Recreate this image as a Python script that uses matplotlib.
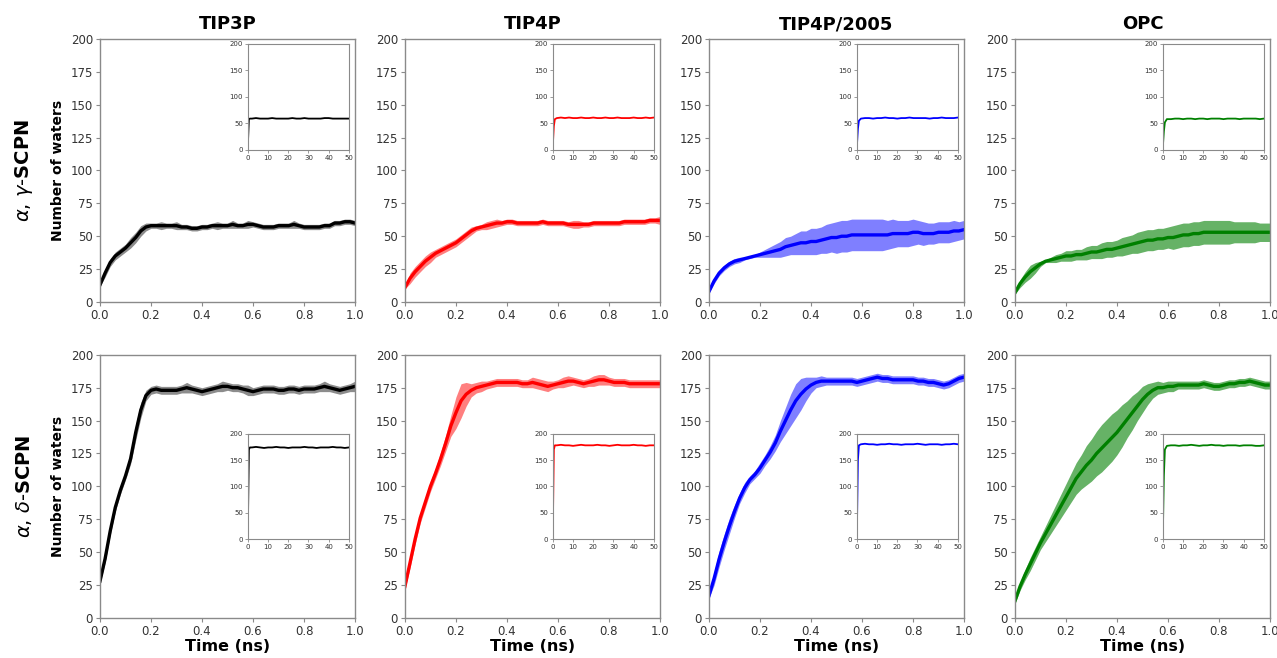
import numpy as np
import matplotlib
matplotlib.use("Agg")
import matplotlib.pyplot as plt

# time grid (ns) used for the first 1 ns
t = np.round(np.arange(51) * 0.02, 2)
# inset time grid (ns)
t_in = [0, 0.5, 1, 2, 4, 6, 8, 10, 12, 14, 16, 18, 20, 22, 24, 26, 28, 30,
        32, 34, 36, 38, 40, 42, 44, 46, 48, 50]

models = ["TIP3P", "TIP4P", "TIP4P/2005", "OPC"]
colors = ["black", "red", "blue", "green"]
band_alpha = [0.45, 0.5, 0.5, 0.6]
rows = [r"$\alpha$, $\gamma$-$\mathbf{SCPN}$", r"$\alpha$, $\delta$-$\mathbf{SCPN}$"]

# ---- alpha,gamma-SCPN (top row) ----
ag_tip3p = [13, 22, 30, 35, 38, 41, 45, 49, 54, 57, 58,
            58, 58, 58, 58, 58, 57, 57, 56, 56, 57,
            57, 58, 58, 58, 58, 59, 58, 58, 59, 59,
            58, 57, 57, 57, 58, 58, 58, 59, 58, 57,
            57, 57, 57, 58, 58, 60, 60, 61, 61, 60]
ag_tip3p_sd = [1, 3, 3, 3, 3, 3, 4, 4, 4, 3, 2,
               2, 3, 2, 2, 3, 2, 2, 2, 2, 2,
               2, 2, 3, 2, 2, 3, 2, 2, 3, 2,
               2, 2, 2, 2, 2, 2, 2, 3, 2, 2,
               2, 2, 2, 2, 2, 2, 2, 2, 2, 2]
ag_tip4p = [11, 18, 23, 27, 31, 34, 37, 39, 41, 43, 45,
            48, 51, 54, 56, 57, 58, 59, 60, 60, 61,
            61, 60, 60, 60, 60, 60, 61, 60, 60, 60,
            60, 59, 59, 59, 59, 59, 60, 60, 60, 60,
            60, 60, 61, 61, 61, 61, 61, 62, 62, 62]
ag_tip4p_sd = [1, 4, 4, 4, 4, 4, 3, 3, 3, 3, 3,
               3, 3, 3, 2, 2, 3, 3, 3, 2, 2,
               2, 2, 2, 2, 2, 2, 2, 2, 2, 2,
               2, 2, 3, 3, 2, 2, 2, 2, 2, 2,
               2, 2, 2, 2, 2, 2, 2, 2, 2, 3]
ag_tip4p2005 = [8, 16, 22, 26, 29, 31, 32, 33, 34, 35, 36,
                37, 38, 39, 40, 42, 43, 44, 45, 45, 46,
                46, 47, 48, 49, 49, 50, 50, 51, 51, 51,
                51, 51, 51, 51, 51, 52, 52, 52, 52, 53,
                53, 52, 52, 52, 53, 53, 53, 54, 54, 55]
ag_tip4p2005_sd = [1, 2, 2, 2, 2, 2, 2, 1, 1, 1, 2,
                   3, 4, 5, 6, 7, 7, 8, 9, 9, 10,
                   10, 10, 11, 11, 12, 12, 12, 12, 12, 12,
                   12, 12, 12, 12, 11, 11, 10, 10, 10, 10,
                   9, 9, 8, 8, 8, 8, 8, 8, 7, 7]
ag_opc = [7, 14, 19, 23, 26, 29, 31, 32, 33, 34, 35,
          35, 36, 36, 37, 38, 38, 39, 40, 40, 41,
          42, 43, 44, 45, 46, 47, 47, 48, 48, 49,
          49, 50, 51, 51, 52, 52, 53, 53, 53, 53,
          53, 53, 53, 53, 53, 53, 53, 53, 53, 53]
ag_opc_sd = [1, 3, 4, 5, 4, 2, 1, 2, 3, 3, 4,
             4, 4, 4, 5, 5, 5, 6, 6, 6, 6,
             7, 7, 7, 8, 8, 8, 8, 8, 8, 8,
             9, 9, 9, 9, 9, 9, 9, 9, 9, 9,
             9, 9, 8, 8, 8, 8, 8, 7, 7, 7]

# ---- alpha,delta-SCPN (bottom row) ----
ad_tip3p = [28, 45, 66, 84, 97, 108, 121, 141, 158, 169, 173,
            174, 173, 173, 173, 173, 174, 175, 174, 173, 172,
            173, 174, 175, 176, 176, 175, 175, 174, 173, 172,
            173, 174, 174, 174, 173, 173, 174, 174, 173, 174,
            174, 174, 175, 176, 175, 174, 173, 174, 175, 176]
ad_tip3p_sd = [2, 3, 3, 3, 3, 3, 4, 6, 6, 4, 3,
               3, 3, 3, 3, 3, 3, 4, 3, 3, 3,
               3, 3, 3, 4, 3, 3, 3, 3, 4, 3,
               3, 3, 3, 3, 3, 3, 3, 3, 3, 3,
               3, 3, 3, 4, 3, 3, 3, 3, 3, 4]
ad_tip4p = [24, 42, 60, 76, 88, 100, 110, 121, 133, 146, 156,
            165, 170, 173, 175, 176, 177, 178, 179, 179, 179,
            179, 179, 178, 178, 179, 178, 177, 176, 177, 178,
            179, 180, 180, 179, 178, 179, 180, 181, 181, 180,
            179, 179, 179, 178, 178, 178, 178, 178, 178, 178]
ad_tip4p_sd = [2, 4, 4, 4, 4, 4, 4, 5, 6, 8, 12,
               13, 9, 5, 4, 4, 3, 3, 3, 3, 3,
               3, 3, 3, 3, 4, 4, 4, 4, 3, 3,
               4, 4, 3, 3, 3, 3, 4, 4, 4, 3,
               3, 3, 3, 3, 3, 3, 3, 3, 3, 3]
ad_tip4p2005 = [17, 30, 45, 58, 70, 81, 91, 99, 105, 109, 114,
                120, 126, 133, 142, 150, 158, 165, 170, 174, 177,
                179, 180, 180, 180, 180, 180, 180, 180, 179, 180,
                181, 182, 183, 182, 182, 181, 181, 181, 181, 181,
                180, 180, 179, 179, 178, 177, 178, 180, 182, 183]
ad_tip4p2005_sd = [2, 5, 6, 6, 6, 5, 4, 4, 3, 3, 4,
                   4, 5, 6, 8, 10, 12, 13, 12, 9, 6,
                   4, 4, 3, 3, 3, 3, 3, 3, 3, 3,
                   3, 3, 3, 3, 3, 3, 3, 3, 3, 3,
                   3, 3, 3, 3, 3, 3, 3, 3, 3, 3]
ad_opc = [13, 24, 33, 41, 49, 57, 64, 71, 78, 85, 92,
          99, 106, 111, 116, 120, 125, 129, 133, 137, 141,
          146, 151, 156, 161, 166, 170, 173, 175, 175, 176,
          176, 177, 177, 177, 177, 177, 178, 177, 176, 176,
          177, 178, 178, 179, 179, 180, 179, 178, 177, 177]
ad_opc_sd = [2, 3, 4, 5, 5, 5, 6, 7, 8, 9, 10,
             11, 12, 13, 15, 16, 17, 18, 18, 18, 17,
             16, 14, 13, 11, 10, 8, 6, 5, 4, 4,
             4, 3, 3, 3, 3, 3, 3, 3, 3, 3,
             3, 3, 3, 3, 3, 3, 3, 3, 3, 3]

# ---- 50 ns insets ----
ag_tip3p_in = [12, 58, 59, 59, 60, 59, 59, 59, 60, 59, 59, 59, 59, 60,
               59, 59, 60, 59, 59, 59, 59, 60, 60, 59, 59, 59, 59, 59]
ag_tip4p_in = [10, 45, 58, 60, 61, 60, 61, 60, 60, 61, 60, 60, 61, 60,
               60, 61, 60, 60, 61, 60, 60, 60, 61, 60, 60, 61, 60, 61]
ag_tip4p2005_in = [8, 40, 55, 59, 60, 60, 59, 60, 60, 61, 60, 60, 59, 60,
                   60, 61, 60, 60, 60, 60, 59, 60, 60, 61, 60, 60, 60, 61]
ag_opc_in = [7, 35, 52, 58, 58, 59, 59, 58, 59, 59, 58, 59, 59, 58,
             59, 59, 59, 58, 59, 59, 59, 58, 59, 59, 59, 59, 58, 59]
ad_tip3p_in = [28, 170, 174, 174, 175, 174, 173, 174, 174, 175, 174, 174, 173, 174,
               174, 174, 175, 174, 174, 173, 174, 174, 174, 175, 174, 174, 173, 174]
ad_tip4p_in = [24, 170, 178, 178, 179, 178, 178, 177, 178, 179, 178, 178, 178, 179,
               178, 178, 177, 178, 179, 178, 178, 178, 179, 178, 178, 177, 178, 178]
ad_tip4p2005_in = [17, 150, 178, 180, 181, 180, 180, 179, 180, 180, 181, 180, 180, 179,
                   180, 180, 180, 181, 180, 179, 180, 180, 180, 179, 180, 180, 181, 180]
ad_opc_in = [13, 120, 170, 177, 178, 178, 177, 178, 178, 179, 178, 177, 178, 178,
             179, 178, 178, 177, 178, 178, 178, 177, 178, 178, 178, 177, 177, 178]

means = [[ag_tip3p, ag_tip4p, ag_tip4p2005, ag_opc],
         [ad_tip3p, ad_tip4p, ad_tip4p2005, ad_opc]]
sds = [[ag_tip3p_sd, ag_tip4p_sd, ag_tip4p2005_sd, ag_opc_sd],
       [ad_tip3p_sd, ad_tip4p_sd, ad_tip4p2005_sd, ad_opc_sd]]
insets = [[ag_tip3p_in, ag_tip4p_in, ag_tip4p2005_in, ag_opc_in],
          [ad_tip3p_in, ad_tip4p_in, ad_tip4p2005_in, ad_opc_in]]

plt.rcParams["axes.edgecolor"] = "#8a8a8a"
plt.rcParams["xtick.color"] = "#8a8a8a"
plt.rcParams["ytick.color"] = "#8a8a8a"
plt.rcParams["xtick.labelcolor"] = "#333333"
plt.rcParams["ytick.labelcolor"] = "#333333"

fig = plt.figure(figsize=(12.77, 6.58), dpi=100)

lefts = [0.0783, 0.3171, 0.5552, 0.7948]
bottoms = [0.541, 0.0608]
w, h = 0.1997, 0.400
inset_pos = [[0.58, 0.578, 0.396, 0.403], [0.58, 0.30, 0.396, 0.40]]

for r in range(2):
    for c in range(4):
        ax = fig.add_axes([lefts[c], bottoms[r], w, h])
        m = np.array(means[r][c])
        s = np.array(sds[r][c])
        ax.fill_between(t, m - s, m + s, color=colors[c], alpha=band_alpha[c], lw=0)
        ax.plot(t, m, color=colors[c], lw=2.4)
        ax.set_xlim(0, 1.0)
        ax.set_ylim(0, 200)
        ax.set_xticks([0, 0.2, 0.4, 0.6, 0.8, 1.0])
        ax.set_yticks([0, 25, 50, 75, 100, 125, 150, 175, 200])
        ax.tick_params(labelsize=8.5, length=3, width=0.8, pad=2)
        for sp in ax.spines.values():
            sp.set_linewidth(1.0)
        if r == 0:
            ax.set_title(models[c], fontsize=13, fontweight="bold", pad=7)
        if r == 1:
            ax.set_xlabel("Time (ns)", fontsize=11.5, fontweight="bold", labelpad=1)
        if c == 0:
            ax.set_ylabel("Number of waters", fontsize=10, fontweight="bold", labelpad=4)

        ins = ax.inset_axes(inset_pos[r])
        ins.plot(t_in, insets[r][c], color=colors[c], lw=1.3)
        ins.set_xlim(0, 50)
        ins.set_ylim(0, 200)
        ins.set_xticks([0, 10, 20, 30, 40, 50])
        ins.set_yticks([0, 50, 100, 150, 200])
        ins.tick_params(labelsize=5, length=2, width=0.6, pad=1.5)
        for sp in ins.spines.values():
            sp.set_linewidth(0.8)

for r in range(2):
    fig.text(0.019, bottoms[r] + h / 2, rows[r], rotation=90, fontsize=14,
             ha="center", va="center")

fig.savefig("out.png", dpi=100)
